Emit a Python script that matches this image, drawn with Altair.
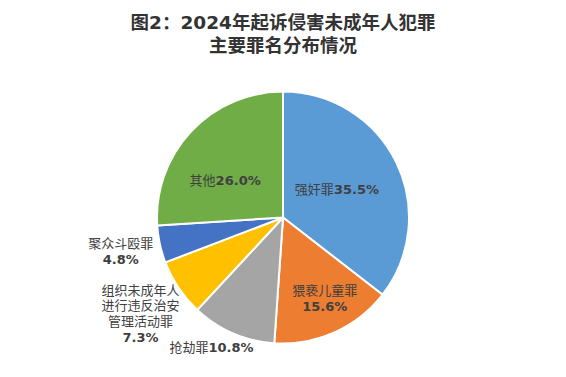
import altair as alt
import pandas as pd

categories = ["强奸罪", "猥亵儿童罪", "抢劫罪", "组织未成年人进行违反治安管理活动罪", "聚众斗殴罪", "其他"]
values = [35.5, 15.6, 10.8, 7.3, 4.8, 26.0]
label_names = ["强奸罪", "猥亵儿童罪", "抢劫罪", "组织未成年人\n进行违反治安\n管理活动罪", "聚众斗殴罪", "其他"]
colors = ["#5B9BD5", "#ED7D31", "#A5A5A5", "#FFC000", "#4472C4", "#70AD47"]
title_lines = ["图2：2024年起诉侵害未成年人犯罪", "主要罪名分布情况"]

df = pd.DataFrame({"cat": categories, "value": values, "name": label_names})

CJK = "Noto Sans CJK SC"
NUM = "DejaVu Sans"
TXT = "#404040"

base = alt.Chart(df).transform_window(
    idx="row_number()"
).transform_calculate(
    pct="format(datum.value, '.1f') + '%'"
).encode(
    theta=alt.Theta("value:Q", stack=True),
    order=alt.Order("idx:Q"),
)

arc = base.mark_arc(radius=126, stroke="white", strokeWidth=2).encode(
    color=alt.Color("cat:N", scale=alt.Scale(domain=categories, range=colors), legend=None)
)


def lbl(cat, field, r, dx, dy, align, font, weight):
    return base.mark_text(
        radius=r, dx=dx, dy=dy, align=align, baseline="middle",
        font=font, fontWeight=weight, fontSize=13, color=TXT,
        lineBreak="\n", lineHeight=15.5,
    ).encode(
        text=alt.condition(alt.datum.cat == cat, alt.Text(f"{field}:N"), alt.value(""))
    )


layers = [arc]
# 强奸罪 (single line)
layers += [lbl(categories[0], "name", 60, -3, -1, "right", CJK, "normal"),
           lbl(categories[0], "pct", 60, -3, -1, "left", NUM, "bold")]
# 猥亵儿童罪 (two lines)
layers += [lbl(categories[1], "name", 90, 5, -9, "center", CJK, "normal"),
           lbl(categories[1], "pct", 90, 5, 7, "center", NUM, "bold")]
# 抢劫罪 (single line)
layers += [lbl(categories[2], "name", 140, -19, 2, "right", CJK, "normal"),
           lbl(categories[2], "pct", 140, -19, 2, "left", NUM, "bold")]
# 组织未成年人... (multi line, lines flow downward from the anchor)
layers += [lbl(categories[3], "name", 172, 0, -23, "center", CJK, "normal"),
           lbl(categories[3], "pct", 172, 0, 24, "center", NUM, "bold")]
# 聚众斗殴罪 (two lines)
layers += [lbl(categories[4], "name", 166, 0, -9, "center", CJK, "normal"),
           lbl(categories[4], "pct", 166, 0, 7, "center", NUM, "bold")]
# 其他 (single line)
layers += [lbl(categories[5], "name", 65, -20, 8, "right", CJK, "normal"),
           lbl(categories[5], "pct", 65, -20, 8, "left", NUM, "bold")]

chart = alt.layer(*layers).properties(
    width=540,
    height=299,
    autosize=alt.AutoSizeParams(type="none"),
    padding={"left": 5, "right": 5, "top": 60, "bottom": 0},
    title=alt.Title(
        title_lines, fontSize=18.5, font=f"{NUM}, {CJK}", fontWeight="bold",
        color="#333333", lineHeight=23, anchor="middle", baseline="bottom", offset=-6,
    ),
    background="white",
).configure_view(stroke=None)

chart.save("out.html", embed_options={"renderer": "svg", "actions": False})
